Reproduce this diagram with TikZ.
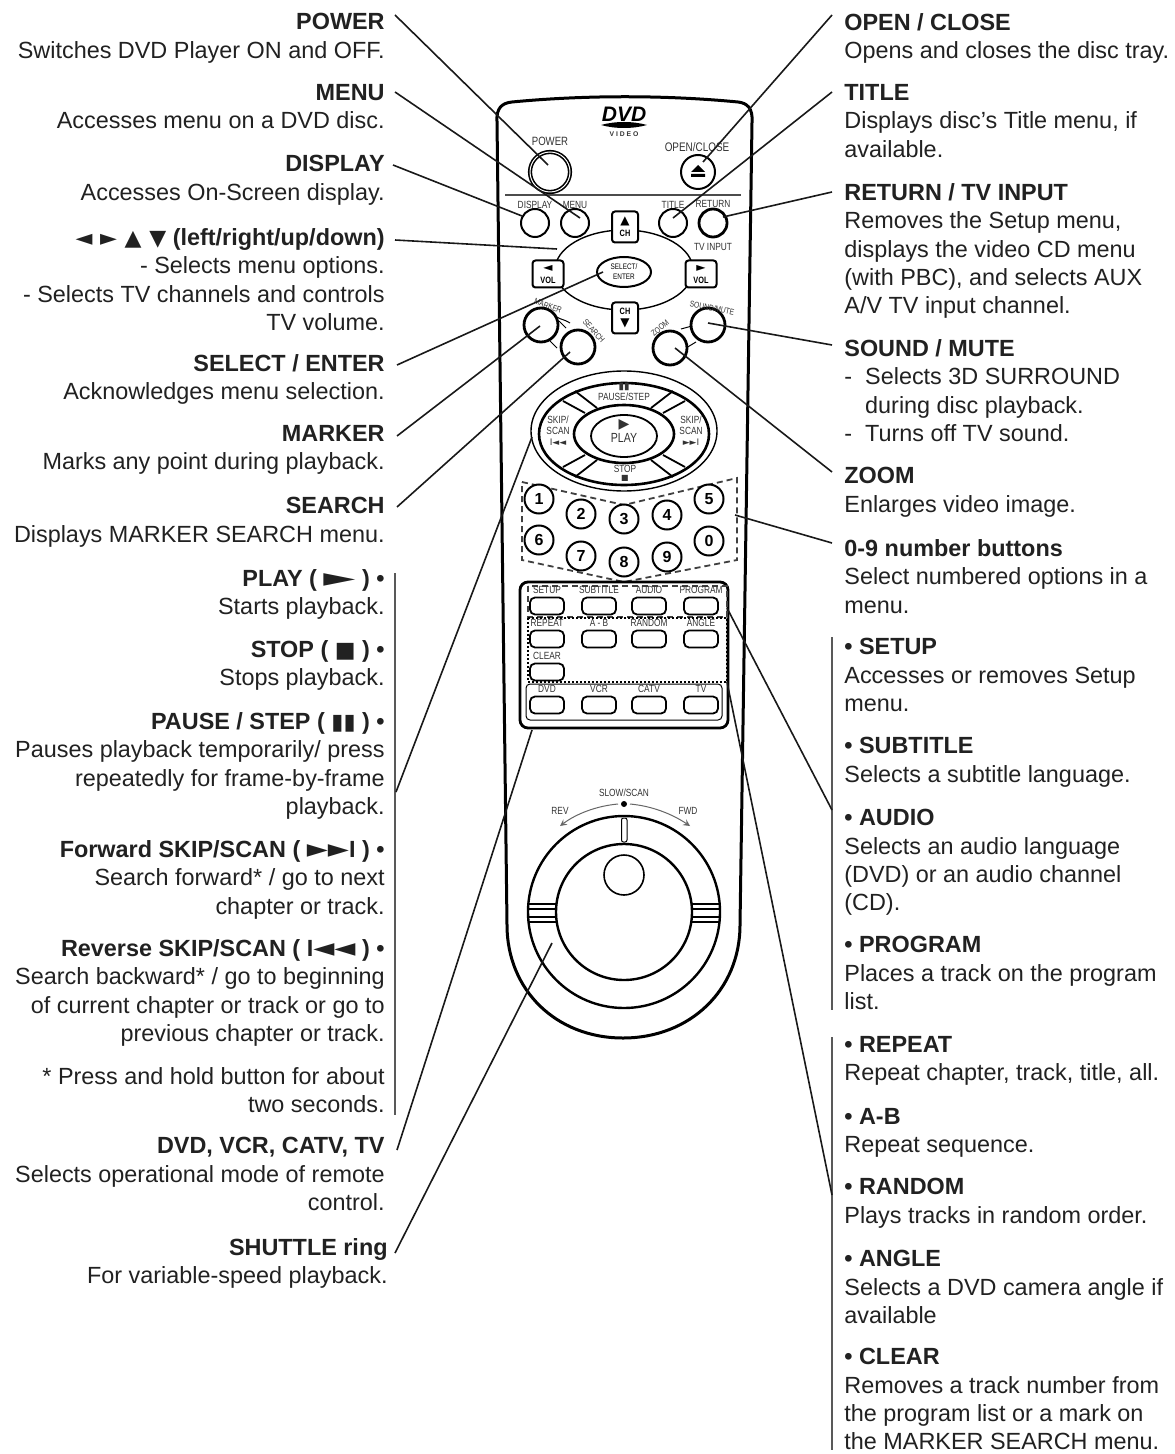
\documentclass[tikz,border=0pt]{standalone}
\usepackage{fontspec}
\setmainfont{Liberation Sans}
\newfontfamily\symfont{DejaVu Sans}
\newfontfamily\keyfont[FakeStretch=0.8]{Liberation Sans}
\usetikzlibrary{calc,shapes.geometric}
\newcommand{\txtfont}{\fontsize{11.7}{14.2}\selectfont}
\newcommand{\sym}[1]{{\symfont\fontsize{11}{14}\selectfont #1}}
\newcommand{\symw}[2]{\scalebox{#1}[1.15]{\sym{#2}}}
\newcommand{\hd}[1]{\textbf{#1}}
\definecolor{ink}{gray}{0.13}
\tikzset{
	lefttxt/.style={inner sep=0pt,align=right,anchor=north east,yshift=-1.5pt,font=\txtfont,text=ink,execute at begin node=\strut},
	righttxt/.style={inner sep=0pt,align=left,anchor=north west,yshift=-1.5pt,font=\txtfont,text=ink,execute at begin node=\strut},
	body/.style={draw=black,line width=1.5pt},
	ringline/.style={draw=black,line width=1.3pt},
	thinline/.style={draw=black,line width=0.5pt},
	leader/.style={draw=black!90,line width=0.8pt},
	barline/.style={draw=black!65,line width=0.9pt},
	keylbl/.style={inner sep=0pt,font=\keyfont\fontsize{5.2}{5.6}\selectfont,text=black!80,align=center},
	rotlbl/.style={keylbl,font=\keyfont\fontsize{4.2}{5}\selectfont},
	roundbtn/.style={circle,draw=black,fill=white,inner sep=0pt,minimum size=14pt,line width=1pt},
	heavybtn/.style={roundbtn,line width=1.4pt,minimum size=17pt},
	numbtn/.style={roundbtn,minimum size=14.5pt,line width=1pt,font=\bfseries\fontsize{8}{8}\selectfont},
	arrowbtn/.style={rectangle,rounded corners=1.5pt,draw=black,fill=white,inner sep=0pt,line width=1pt,align=center,font=\keyfont\bfseries\fontsize{4.6}{6}\selectfont},
	panelbtn/.style={rectangle,rounded corners=2.5pt,draw=black,fill=white,inner sep=0pt,minimum width=17pt,minimum height=8.5pt,line width=0.9pt},
}
\begin{document}
\begin{tikzpicture}[x=0.5pt,y=-0.5pt]
\useasboundingbox[fill=white] (0,0) rectangle (1174,1454);
% left column
\node[lefttxt] (tpower) at (385,10) {\hd{POWER}\\Switches DVD Player ON and OFF.};
\node[lefttxt] (tmenu) at (385,81) {\hd{MENU}\\Accesses menu on a DVD disc.};
\node[lefttxt] (tdisp) at (385,152) {\hd{DISPLAY}\\Accesses On-Screen display.};
\node[lefttxt] (tlr) at (385,225) {\hd{\sym{◄ ► ▲ ▼} (left/right/up/down)}\\- Selects menu options.\\- Selects TV channels and controls\\TV volume.};
\node[lefttxt] (tsel) at (385,351) {\hd{SELECT / ENTER}\\Acknowledges menu selection.};
\node[lefttxt] (tmark) at (385,422) {\hd{MARKER}\\Marks any point during playback.};
\node[lefttxt] (tsrch) at (385,494) {\hd{SEARCH}\\Displays MARKER SEARCH menu.};
\node[lefttxt] (tplay) at (385,566) {\hd{PLAY ( \symw{1.9}{►} ) •}\\Starts playback.};
\node[lefttxt] (tstop) at (385,637) {\hd{STOP ( \sym{■} ) •}\\Stops playback.};
\node[lefttxt] (tpause) at (385,709) {\hd{PAUSE / STEP ( \sym{▮▮} ) •}\\Pauses playback temporarily/ press\\repeatedly for frame-by-frame\\playback.};
\node[lefttxt] (tfwd) at (385,837) {\hd{Forward SKIP/SCAN ( \symw{1.25}{►►}I ) •}\\Search forward* / go to next\\chapter or track.};
\node[lefttxt] (trev) at (385,936) {\hd{Reverse SKIP/SCAN ( I\symw{1.25}{◄◄} ) •}\\Search backward* / go to beginning\\of current chapter or track or go to\\previous chapter or track.};
\node[lefttxt] (tnote) at (385,1064) {* Press and hold button for about\\two seconds.};
\node[lefttxt] (tdvd) at (385,1134) {\hd{DVD, VCR, CATV, TV}\\Selects operational mode of remote\\control.};
\node[lefttxt] (tshut) at (388,1235) {\hd{SHUTTLE ring}\\For variable-speed playback.};
% right column
\node[righttxt] (topen) at (844,10) {\hd{OPEN / CLOSE}\\Opens and closes the disc tray.};
\node[righttxt] (ttitle) at (844,81) {\hd{TITLE}\\Displays disc's Title menu, if\\available.};
\node[righttxt] (tret) at (844,180) {\hd{RETURN / TV INPUT}\\Removes the Setup menu,\\displays the video CD menu\\(with PBC), and selects AUX\\A/V TV input channel.};
\node[righttxt] (tsound) at (844,336) {\hd{SOUND / MUTE}\\-\ \ Selects 3D SURROUND\\\phantom{-\ \ }during disc playback.\\-\ \ Turns off TV sound.};
\node[righttxt] (tzoom) at (844,464) {\hd{ZOOM}\\Enlarges video image.};
\node[righttxt] (tnum) at (844,536) {\hd{0-9 number buttons}\\Select numbered options in a\\menu.};
\node[righttxt] (tsetup) at (844,635) {\hd{• SETUP}\\Accesses or removes Setup\\menu.};
\node[righttxt] (tsub) at (844,734) {\hd{• SUBTITLE}\\Selects a subtitle language.};
\node[righttxt] (taudio) at (844,806) {\hd{• AUDIO}\\Selects an audio language\\(DVD) or an audio channel\\(CD).};
\node[righttxt] (tprog) at (844,933) {\hd{• PROGRAM}\\Places a track on the program\\list.};
\node[righttxt] (trep) at (844,1033) {\hd{• REPEAT}\\Repeat chapter, track, title, all.};
\node[righttxt] (tab) at (844,1105) {\hd{• A-B}\\Repeat sequence.};
\node[righttxt] (trand) at (844,1175) {\hd{• RANDOM}\\Plays tracks in random order.};
\node[righttxt] (tangle) at (844,1247) {\hd{• ANGLE}\\Selects a DVD camera angle if\\available};
\node[righttxt] (tclear) at (844,1345) {\hd{• CLEAR}\\Removes a track number from\\the program list or a mark on\\the MARKER SEARCH menu.};
% remote body
\draw[body] (497,122) .. controls (496,108) and (502,103) .. (512,102) .. controls (585,95) and (665,95) .. (738,102) .. controls (747,103) and (753,108) .. (752,122) -- (740,925) .. controls (740,990) and (690,1038) .. (623,1038) .. controls (556,1038) and (507,990) .. (507,925) -- cycle;
\node[inner sep=0pt,font=\bfseries\itshape\fontsize{10.5}{10}\selectfont] (logo) at (624,114) {DVD};
\fill (601,125) .. controls (615,121) and (633,121) .. (647,125) .. controls (633,129) and (615,129) .. (601,125) -- cycle;
\node[keylbl,font=\bfseries\fontsize{3.4}{4}\selectfont] (video) at (624,134) {V I D E O};
\draw[draw=black!70,line width=1pt] (505,195) -- (741,195);
% top buttons
\node[roundbtn,minimum size=20pt,double,double distance=0.5pt,line width=0.8pt] (power) at (550,172) {};
\node[roundbtn,minimum size=17pt] (open) at (698,172) {};
\fill (698,165) -- (691,172) -- (705,172) -- cycle (691,174) rectangle (705,177);
\node[keylbl,font=\keyfont\fontsize{6}{6}\selectfont] (lpower) at (550,141) {POWER};
\node[keylbl,font=\keyfont\fontsize{6.2}{6}\selectfont] (lopen) at (697,147) {OPEN/CLOSE};
\foreach \n/\x/\t in {disp/535/DISPLAY,menu/575/MENU,title/673/TITLE}{
	\node[roundbtn] (\n) at (\x,223) {};
	\node[keylbl] (l\n) at (\x,205) {\t};
}
\node[roundbtn,line width=1.4pt] (return) at (713,223) {};
\node[keylbl] (lreturn) at (713,204) {RETURN};
\node[keylbl] (ltv) at (713,247) {TV INPUT};
% direction pad
\node[ellipse,draw=black,line width=0.7pt,inner sep=0pt,minimum width=69pt,minimum height=40pt] (dpad) at (624,270) {};
\node[arrowbtn,minimum width=13pt,minimum height=15.5pt] (chup) at (625,227) {\sym{\fontsize{6}{6}\selectfont ▲}\\CH};
\node[arrowbtn,minimum width=13pt,minimum height=15.5pt] (chdn) at (625,318) {CH\\\sym{\fontsize{6}{6}\selectfont ▼}};
\node[arrowbtn,minimum width=15.5pt,minimum height=13.5pt] (volm) at (548,274) {\sym{\fontsize{6}{6}\selectfont ◄}\\VOL};
\node[arrowbtn,minimum width=15.5pt,minimum height=13.5pt] (volp) at (701,274) {\sym{\fontsize{6}{6}\selectfont ►}\\VOL};
\node[ellipse,draw=black,fill=white,line width=1pt,inner sep=0pt,minimum width=27pt,minimum height=15pt,align=center,font=\keyfont\fontsize{4}{5}\selectfont] (select) at (624,272) {SELECT/\\ENTER};
% marker, search, zoom, sound
\draw[thinline] (552,313) .. controls (558,320) and (562,318) .. (570,323) (559,321) -- (566,328) (550,341) -- (557,348) (681,329) -- (692,326) (686,348) -- (696,342);
\node[heavybtn] (marker) at (541,325) {};
\node[heavybtn] (search) at (578,347) {};
\node[heavybtn] (zoom) at (670,348) {};
\node[heavybtn] (sound) at (708,325) {};
\node[rotlbl,rotate=-20] (lmarker) at (548,306) {MARKER};
\node[rotlbl,rotate=-48] (lsearch) at (594,331) {SEARCH};
\node[rotlbl,rotate=40] (lzoom) at (660,328) {ZOOM};
\node[rotlbl,rotate=-12] (lsound) at (712,308) {SOUND/MUTE};
% play cluster
\node[ellipse,draw=black,line width=0.7pt,inner sep=0pt,minimum width=93pt,minimum height=60pt] (skip) at (624,431) {};
\draw[ringline] (624,434) ellipse [x radius=85,y radius=51];
\draw[ringline] (624,434) ellipse [x radius=50,y radius=29];
\node[ellipse,draw=black,line width=0.9pt,inner sep=0pt,minimum width=33pt,minimum height=21pt] (play) at (624,436) {};
\foreach \sx in {-1,1}\foreach \sy in {-1,1}{
	\draw[ringline,line width=0.9pt] (624+\sx*61,434+\sy*33) -- (624+\sx*39,434+\sy*21) (624+\sx*49,434+\sy*43) -- (624+\sx*27,434+\sy*26);
}
\node[keylbl,font=\symfont\fontsize{5}{5}\selectfont] (lpausea) at (624,387) {▮▮};
\node[keylbl] (lpause) at (624,397) {PAUSE/STEP};
\node[keylbl] (lstop) at (625,469) {STOP};
\node[keylbl,font=\symfont\fontsize{4}{4}\selectfont] (lstopa) at (625,478) {■};
\node[keylbl,font=\symfont\fontsize{7}{7}\selectfont] (lplaya) at (624,425) {▶};
\node[keylbl,font=\keyfont\fontsize{6.6}{7}\selectfont] (lplay) at (624,438) {PLAY};
\node[keylbl] (lskipb) at (558,431) {SKIP/\\SCAN\\{\symfont\fontsize{4.5}{5}\selectfont I◄◄}};
\node[keylbl] (lskipf) at (691,431) {SKIP/\\SCAN\\{\symfont\fontsize{4.5}{5}\selectfont ►►I}};
% number keys
\draw[draw=black!75,line width=0.9pt,densely dashed] (522,482) -- (624,505) -- (737,478) -- (737,560) -- (624,582) -- (522,560) -- cycle;
\foreach \n/\x/\y in {1/539/499,2/581/514,3/624/519,4/667/515,5/709/499,6/539/540,7/581/556,8/624/562,9/667/557,0/709/541}
	\node[numbtn] (n\n) at (\x,\y) {\n};
% lower keys
\node[draw=black,rounded corners=4pt,line width=1.4pt,inner sep=0pt,minimum width=104pt,minimum height=73pt] (panel) at (624,655) {};
\draw[thinline,rounded corners=2pt] (526,684) rectangle (722,720);
\draw[draw=black!75,line width=0.9pt,densely dashed] (528,586) rectangle (727,617);
\draw[draw=black,line width=1pt,densely dotted] (528,618) rectangle (727,682);
\foreach \n/\x/\y/\t in {setup/547/606/SETUP,sub/599/606/SUBTITLE,audio/649/606/AUDIO,prog/701/606/PROGRAM,rep/547/639/REPEAT,ab/599/639/A - B,rand/649/639/RANDOM,ang/701/639/ANGLE,clr/547/672/CLEAR,dvd/547/705/DVD,vcr/599/705/VCR,catv/649/705/CATV,tv/701/705/TV}{
	\node[panelbtn] (\n) at (\x,\y) {};
	\node[keylbl] (l\n) at (\x,\y-16) {\t};
}
% shuttle
\node[circle,draw=black,line width=1.2pt,inner sep=0pt,minimum size=96pt] (ring) at (624,912) {};
\node[circle,draw=black,line width=1.2pt,inner sep=0pt,minimum size=68pt] (dial) at (624,912) {};
\node[circle,draw=black,line width=0.8pt,inner sep=0pt,minimum size=20pt] (dimple) at (624,875) {};
\draw[thinline,rounded corners=1pt] (621.5,818) rectangle (627,842);
\foreach \yy in {904,909,917,922}
	\draw[thinline,line width=0.7pt] (528,\yy) -- (557,\yy) (692,\yy) -- (720,\yy);
\draw[thinline,draw=black!60,-stealth] (618,804) .. controls (596,806) and (576,814) .. (560,826);
\draw[thinline,draw=black!60,-stealth] (630,804) .. controls (652,806) and (672,814) .. (690,826);
\node[circle,fill=black,inner sep=0pt,minimum size=3pt] (center) at (624,804) {};
\node[keylbl] (lslow) at (624,793) {SLOW/SCAN};
\node[keylbl] (lrev) at (560,811) {REV};
\node[keylbl] (lfwd) at (688,811) {FWD};
% bullets bars
\foreach \n/\x/\y in {ba/395/573,bb/395/1115,bc/832/637,bd/832/1010,be/832/1037,bf/832/1450}
	\coordinate (\n) at (\x,\y);
\draw[barline] (ba) -- (bb);
\draw[barline] (bc) -- (bd);
\draw[barline] (be) -- (bf);
% leaders
\foreach \n/\x/\y in {spower/395/15,smenu/395/92,sdisp/393/165,slr/395/240,ssel/397/365,smark/397/436,ssrch/397/507,splay/396/792,sdvd/397/1150,sshut/395/1253,sopen/832/15,stitle/832/92,sret/832/192,ssound/832/345,szoom/832/472,snum/832/543,saudio/832/810,srand/832/1195}
	\coordinate (\n) at (\x,\y);
\foreach \s/\t/\dx/\dy in {spower/power/-2/-7,smenu/menu/5/-5,sdisp/disp/-13/-7,slr/dpad/-67/-21,ssel/select/-21/0,smark/marker/-1/1,ssrch/search/-8/5,splay/skip/-92/6,sdvd/panel/-92/75,sshut/ring/-72/31,sopen/open/5/-10,stitle/title/0/-5,sret/return/10/-6,ssound/sound/0/-2,szoom/zoom/5/0,snum/n0/26/-26,saudio/panel/103/-47,srand/panel/103/27}
	\draw[leader] (\s) -- ($(\t)+(\dx,\dy)$);
\end{tikzpicture}
\end{document}
